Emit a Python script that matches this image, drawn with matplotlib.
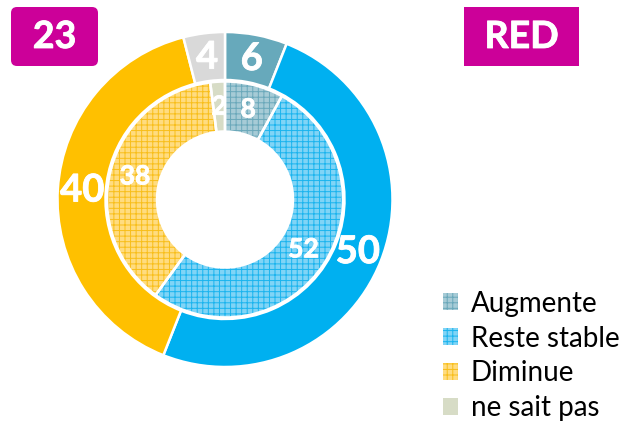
import matplotlib
matplotlib.use("Agg")
import matplotlib.pyplot as plt
import matplotlib.patheffects as pe
from matplotlib.patches import FancyBboxPatch, Rectangle, Patch
import numpy as np

plt.rcParams['font.family'] = ['Lato', 'DejaVu Sans']
plt.rcParams['hatch.linewidth'] = 0.7

categories = ["Augmente", "Reste stable", "Diminue", "ne sait pas"]
outer_values = [6, 50, 40, 4]
inner_values = [8, 52, 38, 2]
badge_left = "23"
badge_right = "RED"

outer_colors = ["#67A9BB", "#00B0F0", "#FFC000", "#D9D9D9"]
inner_face = ["#A6CBD6", "#80D4F6", "#FFDC80", "#D7DCC6"]
inner_hatch = ["#6AA8BA", "#1AB4EE", "#F8BE1A", "#D7DCC6"]

W, H = 631, 425
fig = plt.figure(figsize=(W / 100, H / 100), dpi=100)
ax = fig.add_axes([0, 0, 1, 1])

cx, cy = 225, H - 199.5
R_out, w_out = 167.5, 48
R_in, w_in = 118, 50

ax.pie(outer_values, radius=R_out, center=(cx, cy), startangle=90, counterclock=False,
       colors=outer_colors, wedgeprops=dict(width=w_out, edgecolor="white", linewidth=1.8))

wedges, _ = ax.pie(inner_values, radius=R_in, center=(cx, cy), startangle=90, counterclock=False,
                   colors=inner_face, wedgeprops=dict(width=w_in, linewidth=0))
for w, hc in zip(wedges, inner_hatch):
    w.set_hatch("+++")
    w.set_edgecolor(hc)
ax.pie(inner_values, radius=R_in, center=(cx, cy), startangle=90, counterclock=False,
       wedgeprops=dict(width=w_in, facecolor="none", edgecolor="white", linewidth=1.8))

bold_fx = [pe.withStroke(linewidth=0.6, foreground="white")]

def label_ring(values, r, size):
    total = sum(values)
    start = 0
    for v in values:
        mid = 90 - (start + v / 2) / total * 360
        start += v
        a = np.deg2rad(mid)
        ax.text(cx + r * np.cos(a), cy + r * np.sin(a), str(v), color="white",
                fontsize=size, fontweight="bold", ha="center", va="center",
                path_effects=bold_fx)

label_ring(outer_values, 143, 27.5)
label_ring(inner_values, 93, 19)

ax.set_xlim(0, W)
ax.set_ylim(0, H)
ax.set_aspect("equal")
ax.axis("off")

# badges
ax.add_patch(FancyBboxPatch((15, H - 62), 79, 51, boxstyle="round,pad=4,rounding_size=6",
                            facecolor="#CC0099", edgecolor="none"))
ax.text(54.5, H - 37, badge_left, color="white", fontsize=27, fontweight="bold",
        ha="center", va="center", path_effects=bold_fx)
ax.add_patch(Rectangle((464, H - 66), 115, 59, facecolor="#CC0099", edgecolor="none"))
ax.text(521.5, H - 37, badge_right, color="white", fontsize=27, fontweight="bold",
        ha="center", va="center", path_effects=bold_fx)

handles = [Patch(facecolor=f, edgecolor=h, hatch="+++", linewidth=0)
           for f, h in zip(inner_face, inner_hatch)]
ax.legend(handles, categories, loc="center left", bbox_to_anchor=(443 / W, (H - 356) / H),
          frameon=False, fontsize=20, handlelength=0.55, handleheight=0.55,
          handletextpad=0.45, labelspacing=0.32, borderpad=0, borderaxespad=0)

fig.savefig("out.png", dpi=100)
